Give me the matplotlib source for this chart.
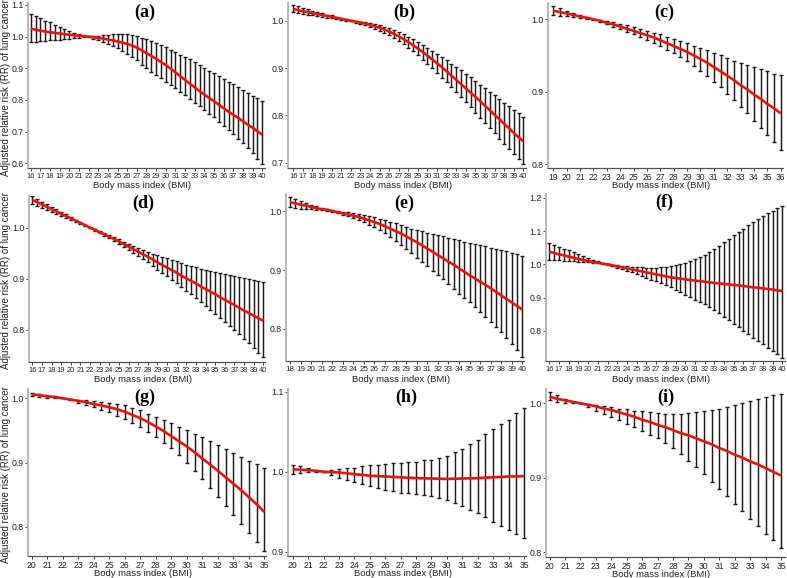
import numpy as np
import matplotlib
matplotlib.use("Agg")
import matplotlib.pyplot as plt

# ------------------------------------------------------------------ data
panel_labels = ["(a)", "(b)", "(c)", "(d)", "(e)", "(f)", "(g)", "(h)", "(i)"]
x_label = "Body mass index (BMI)"
y_label = "Adjusted relative risk (RR) of lung cancer"
bmi_step = 0.5

# (a) BMI 16-40
bmi_range_a = (16, 40)
rr_a = [1.025, 1.022, 1.019, 1.016, 1.014, 1.012, 1.010, 1.008, 1.006, 1.004, 1.003, 1.001, 1.000, 0.998, 0.996, 0.994,
        0.991, 0.988, 0.985, 0.981, 0.977, 0.972, 0.965, 0.957, 0.948, 0.939, 0.930, 0.920, 0.910, 0.899, 0.887, 0.875,
        0.863, 0.851, 0.840, 0.828, 0.817, 0.806, 0.796, 0.785, 0.774, 0.763, 0.753, 0.743, 0.733, 0.722, 0.712, 0.701, 0.690]
lo_a = [0.982, 0.983, 0.985, 0.986, 0.988, 0.989, 0.991, 0.992, 0.994, 0.995, 0.997, 0.998, 0.999, 0.994, 0.989, 0.984,
        0.978, 0.971, 0.964, 0.955, 0.946, 0.936, 0.925, 0.912, 0.900, 0.889, 0.878, 0.868, 0.858, 0.847, 0.837, 0.826,
        0.816, 0.804, 0.792, 0.780, 0.768, 0.757, 0.745, 0.732, 0.719, 0.706, 0.692, 0.678, 0.664, 0.648, 0.632, 0.615, 0.598]
hi_a = [1.070, 1.064, 1.058, 1.051, 1.045, 1.038, 1.032, 1.025, 1.019, 1.013, 1.008, 1.004, 1.001, 1.002, 1.003, 1.005,
        1.006, 1.007, 1.008, 1.008, 1.007, 1.005, 1.002, 0.997, 0.992, 0.986, 0.980, 0.973, 0.966, 0.958, 0.951, 0.943,
        0.936, 0.928, 0.920, 0.911, 0.902, 0.893, 0.884, 0.875, 0.867, 0.858, 0.849, 0.840, 0.831, 0.822, 0.814, 0.805, 0.797]
yticks_a = [0.6, 0.7, 0.8, 0.9, 1.0, 1.1]

# (b) BMI 16-40
bmi_range_b = (16, 40)
rr_b = [1.025, 1.022, 1.020, 1.018, 1.016, 1.014, 1.012, 1.010, 1.008, 1.006, 1.004, 1.002, 1.000, 0.998, 0.996, 0.994,
        0.991, 0.988, 0.985, 0.981, 0.977, 0.972, 0.967, 0.961, 0.955, 0.948, 0.941, 0.934, 0.926, 0.918, 0.910, 0.902,
        0.893, 0.884, 0.875, 0.866, 0.857, 0.848, 0.839, 0.830, 0.820, 0.811, 0.801, 0.792, 0.782, 0.773, 0.763, 0.754, 0.745]
lo_b = [1.018, 1.016, 1.014, 1.012, 1.011, 1.009, 1.008, 1.006, 1.005, 1.003, 1.002, 1.000, 0.999, 0.996, 0.993, 0.990,
        0.987, 0.983, 0.979, 0.974, 0.969, 0.963, 0.957, 0.950, 0.943, 0.935, 0.927, 0.918, 0.909, 0.900, 0.890, 0.880,
        0.870, 0.860, 0.849, 0.839, 0.828, 0.817, 0.806, 0.795, 0.784, 0.773, 0.762, 0.751, 0.740, 0.729, 0.718, 0.707, 0.697]
hi_b = [1.033, 1.030, 1.027, 1.024, 1.021, 1.018, 1.016, 1.013, 1.011, 1.008, 1.006, 1.003, 1.001, 1.000, 0.998, 0.997,
        0.995, 0.993, 0.990, 0.987, 0.984, 0.980, 0.976, 0.971, 0.966, 0.961, 0.955, 0.949, 0.943, 0.937, 0.930, 0.923,
        0.916, 0.909, 0.902, 0.895, 0.887, 0.880, 0.872, 0.865, 0.857, 0.850, 0.842, 0.835, 0.827, 0.819, 0.811, 0.804, 0.796]
yticks_b = [0.7, 0.8, 0.9, 1.0]

# (c) BMI 19-36
bmi_range_c = (19, 36)
rr_c = [1.012, 1.010, 1.008, 1.006, 1.004, 1.002, 1.000, 0.998, 0.995, 0.993, 0.990, 0.987, 0.984, 0.981, 0.978, 0.975,
        0.971, 0.967, 0.963, 0.959, 0.955, 0.950, 0.945, 0.940, 0.934, 0.928, 0.922, 0.916, 0.909, 0.903, 0.896, 0.890,
        0.883, 0.877, 0.870]
lo_c = [1.006, 1.005, 1.004, 1.003, 1.002, 1.000, 0.999, 0.996, 0.993, 0.990, 0.986, 0.983, 0.979, 0.975, 0.971, 0.967,
        0.963, 0.958, 0.953, 0.948, 0.942, 0.936, 0.929, 0.922, 0.914, 0.906, 0.897, 0.888, 0.879, 0.870, 0.860, 0.850,
        0.840, 0.830, 0.820]
hi_c = [1.018, 1.015, 1.012, 1.009, 1.006, 1.003, 1.001, 0.999, 0.998, 0.996, 0.994, 0.992, 0.989, 0.987, 0.984, 0.981,
        0.979, 0.976, 0.973, 0.970, 0.967, 0.963, 0.960, 0.957, 0.953, 0.950, 0.946, 0.943, 0.940, 0.937, 0.934, 0.931,
        0.928, 0.925, 0.923]
yticks_c = [0.8, 0.9, 1.0]

# (d) BMI 16-40
bmi_range_d = (16, 40)
rr_d = [1.054, 1.050, 1.045, 1.041, 1.036, 1.032, 1.027, 1.023, 1.018, 1.014, 1.009, 1.005, 1.000, 0.996, 0.991, 0.987,
        0.982, 0.978, 0.973, 0.968, 0.963, 0.958, 0.953, 0.948, 0.943, 0.938, 0.932, 0.927, 0.922, 0.917, 0.912, 0.906,
        0.901, 0.896, 0.891, 0.885, 0.880, 0.875, 0.870, 0.864, 0.859, 0.854, 0.849, 0.843, 0.838, 0.833, 0.828, 0.823, 0.818]
lo_d = [1.047, 1.043, 1.039, 1.035, 1.031, 1.027, 1.023, 1.019, 1.015, 1.011, 1.007, 1.003, 0.999, 0.994, 0.989, 0.984,
        0.979, 0.974, 0.968, 0.963, 0.957, 0.951, 0.945, 0.939, 0.932, 0.925, 0.918, 0.912, 0.905, 0.898, 0.891, 0.884,
        0.877, 0.870, 0.862, 0.855, 0.847, 0.840, 0.832, 0.824, 0.816, 0.808, 0.800, 0.792, 0.783, 0.774, 0.765, 0.756, 0.747]
hi_d = [1.061, 1.056, 1.051, 1.046, 1.041, 1.036, 1.031, 1.026, 1.021, 1.016, 1.011, 1.006, 1.001, 0.997, 0.993, 0.989,
        0.985, 0.981, 0.977, 0.973, 0.969, 0.965, 0.961, 0.957, 0.953, 0.949, 0.946, 0.943, 0.940, 0.937, 0.934, 0.931,
        0.928, 0.925, 0.923, 0.920, 0.918, 0.915, 0.913, 0.911, 0.909, 0.907, 0.905, 0.903, 0.901, 0.899, 0.897, 0.895, 0.894]
yticks_d = [0.8, 0.9, 1.0]

# (e) BMI 18-40
bmi_range_e = (18, 40)
rr_e = [1.015, 1.013, 1.011, 1.009, 1.007, 1.005, 1.003, 1.002, 1.000, 0.998, 0.996, 0.994, 0.992, 0.990, 0.987, 0.984,
        0.981, 0.978, 0.974, 0.970, 0.966, 0.962, 0.957, 0.952, 0.947, 0.942, 0.936, 0.931, 0.925, 0.920, 0.914, 0.909,
        0.903, 0.897, 0.891, 0.886, 0.880, 0.875, 0.869, 0.863, 0.857, 0.851, 0.845, 0.839, 0.833]
lo_e = [1.007, 1.005, 1.004, 1.003, 1.003, 1.002, 1.001, 1.000, 0.999, 0.996, 0.993, 0.991, 0.988, 0.985, 0.981, 0.977,
        0.973, 0.968, 0.962, 0.956, 0.950, 0.943, 0.936, 0.929, 0.921, 0.914, 0.906, 0.899, 0.891, 0.884, 0.876, 0.868,
        0.860, 0.853, 0.845, 0.837, 0.829, 0.821, 0.812, 0.804, 0.795, 0.785, 0.775, 0.764, 0.753]
hi_e = [1.023, 1.020, 1.017, 1.014, 1.011, 1.008, 1.005, 1.003, 1.001, 1.000, 0.999, 0.998, 0.996, 0.995, 0.993, 0.991,
        0.989, 0.987, 0.985, 0.982, 0.979, 0.976, 0.973, 0.970, 0.968, 0.966, 0.963, 0.961, 0.959, 0.957, 0.955, 0.953,
        0.951, 0.948, 0.946, 0.944, 0.942, 0.940, 0.938, 0.936, 0.934, 0.932, 0.929, 0.927, 0.924]
yticks_e = [0.8, 0.9, 1.0]

# (f) BMI 16-40
bmi_range_f = (16, 40)
rr_f = [1.038, 1.034, 1.030, 1.027, 1.023, 1.020, 1.016, 1.013, 1.010, 1.007, 1.005, 1.002, 1.000, 0.997, 0.994, 0.991,
        0.988, 0.985, 0.982, 0.979, 0.976, 0.973, 0.970, 0.967, 0.964, 0.961, 0.959, 0.957, 0.955, 0.953, 0.951, 0.950,
        0.948, 0.946, 0.944, 0.943, 0.941, 0.940, 0.938, 0.937, 0.935, 0.933, 0.931, 0.930, 0.928, 0.926, 0.924, 0.922, 0.920]
lo_f = [1.013, 1.013, 1.012, 1.011, 1.010, 1.009, 1.008, 1.007, 1.006, 1.005, 1.003, 1.001, 0.999, 0.995, 0.990, 0.986,
        0.981, 0.976, 0.970, 0.965, 0.959, 0.954, 0.949, 0.944, 0.938, 0.931, 0.924, 0.916, 0.908, 0.901, 0.894, 0.888,
        0.881, 0.872, 0.862, 0.853, 0.843, 0.833, 0.822, 0.811, 0.800, 0.790, 0.780, 0.770, 0.760, 0.750, 0.740, 0.730, 0.720]
hi_f = [1.063, 1.058, 1.052, 1.047, 1.042, 1.036, 1.030, 1.025, 1.020, 1.014, 1.009, 1.004, 1.001, 0.999, 0.998, 0.996,
        0.995, 0.993, 0.992, 0.991, 0.990, 0.990, 0.990, 0.991, 0.992, 0.994, 0.997, 1.000, 1.004, 1.010, 1.016, 1.022,
        1.028, 1.037, 1.046, 1.056, 1.066, 1.076, 1.087, 1.097, 1.107, 1.117, 1.127, 1.136, 1.145, 1.153, 1.160, 1.168, 1.176]
yticks_f = [0.8, 0.9, 1.0, 1.1, 1.2]

# (g) BMI 20-35
bmi_range_g = (20, 35)
rr_g = [1.006, 1.005, 1.003, 1.002, 1.000, 0.998, 0.996, 0.994, 0.991, 0.989, 0.986, 0.983, 0.979, 0.974, 0.969, 0.963,
        0.956, 0.949, 0.941, 0.933, 0.925, 0.916, 0.906, 0.897, 0.887, 0.877, 0.867, 0.857, 0.846, 0.835, 0.823]
lo_g = [1.003, 1.002, 1.001, 1.000, 1.000, 0.997, 0.993, 0.990, 0.986, 0.982, 0.978, 0.973, 0.968, 0.962, 0.956, 0.948,
        0.940, 0.931, 0.922, 0.911, 0.899, 0.887, 0.874, 0.861, 0.847, 0.833, 0.818, 0.804, 0.790, 0.776, 0.762]
hi_g = [1.009, 1.007, 1.005, 1.003, 1.000, 0.999, 0.998, 0.997, 0.996, 0.995, 0.993, 0.991, 0.989, 0.985, 0.981, 0.976,
        0.971, 0.966, 0.961, 0.956, 0.950, 0.945, 0.939, 0.933, 0.927, 0.921, 0.915, 0.909, 0.903, 0.897, 0.891]
yticks_g = [0.8, 0.9, 1.0]

# (h) BMI 20-35
bmi_range_h = (20, 35)
rr_h = [1.003, 1.0025, 1.002, 1.001, 1.000, 0.9995, 0.999, 0.998, 0.997, 0.996, 0.995, 0.9945, 0.994, 0.9935, 0.993,
        0.9925, 0.992, 0.9918, 0.9915, 0.9912, 0.991, 0.9912, 0.9915, 0.9918, 0.992, 0.9925, 0.993, 0.9935, 0.994,
        0.9942, 0.9945]
lo_h = [0.997, 0.998, 0.999, 0.9995, 1.000, 0.996, 0.9925, 0.990, 0.9875, 0.985, 0.982, 0.9795, 0.977, 0.9755, 0.974,
        0.973, 0.972, 0.9705, 0.969, 0.967, 0.965, 0.961, 0.957, 0.9525, 0.948, 0.943, 0.937, 0.932, 0.927, 0.922, 0.917]
hi_h = [1.009, 1.007, 1.004, 1.002, 1.000, 1.002, 1.003, 1.004, 1.005, 1.007, 1.008, 1.009, 1.010, 1.011, 1.011, 1.012,
        1.0125, 1.014, 1.015, 1.017, 1.020, 1.024, 1.029, 1.035, 1.040, 1.047, 1.053, 1.060, 1.065, 1.073, 1.079]
yticks_h = [0.9, 1.0, 1.1]

# (i) BMI 20-35
bmi_range_i = (20, 35)
rr_i = [1.009, 1.006, 1.004, 1.002, 1.000, 0.998, 0.996, 0.993, 0.991, 0.988, 0.985, 0.982, 0.978, 0.975, 0.971, 0.968,
        0.964, 0.960, 0.957, 0.953, 0.949, 0.945, 0.940, 0.936, 0.931, 0.927, 0.922, 0.918, 0.913, 0.908, 0.903]
lo_i = [1.004, 1.002, 1.001, 1.000, 1.000, 0.995, 0.990, 0.986, 0.981, 0.977, 0.972, 0.968, 0.963, 0.958, 0.953, 0.947,
        0.940, 0.932, 0.923, 0.914, 0.905, 0.895, 0.885, 0.875, 0.865, 0.855, 0.845, 0.835, 0.825, 0.816, 0.806]
hi_i = [1.015, 1.011, 1.006, 1.002, 1.000, 0.999, 0.998, 0.996, 0.995, 0.993, 0.992, 0.990, 0.989, 0.988, 0.987, 0.986,
        0.985, 0.986, 0.987, 0.988, 0.989, 0.991, 0.993, 0.995, 0.998, 1.001, 1.003, 1.006, 1.008, 1.011, 1.013]
yticks_i = [0.8, 0.9, 1.0]

# ------------------------------------------------------------------ layout (pixels)
W, H = 787, 578
layout = {
    "a": dict(frame=(28, 265, 3, 168), xcal=(16, 30.7, 40, 262.3), ycal=(1.1, 5.0, 0.6, 163.3), title=(145, 12)),
    "b": dict(frame=(288, 526, 3, 168), xcal=(16, 293.3, 40, 523.3), ycal=(1.0, 20.7, 0.7, 162.7), title=(404, 12)),
    "c": dict(frame=(548, 783, 3, 168), xcal=(19, 553.3, 36, 780.7), ycal=(1.0, 19.3, 0.8, 164.0), title=(664, 12)),
    "d": dict(frame=(29, 265, 196, 361.7), xcal=(16, 32.3, 40, 263.3), ycal=(1.0, 227.7, 0.8, 330.0), title=(143, 203)),
    "e": dict(frame=(286, 524, 194, 361), xcal=(18, 290, 40, 522.3), ycal=(1.0, 211.0, 0.8, 329.0), title=(404, 203)),
    "f": dict(frame=(546, 785, 194, 361), xcal=(16, 549.3, 40, 782.3), ycal=(1.2, 197.7, 0.8, 331.0), title=(664, 202)),
    "g": dict(frame=(27.7, 266, 389, 555.7), xcal=(20, 31.7, 35, 264.3), ycal=(1.0, 398.3, 0.8, 526.7), title=(145, 397)),
    "h": dict(frame=(288.3, 526, 389, 555.7), xcal=(20, 292.7, 35, 524.0), ycal=(1.1, 391.7, 0.9, 551.7), title=(406, 397)),
    "i": dict(frame=(546, 785, 389, 556.7), xcal=(20, 549.5, 35, 781.0), ycal=(1.0, 403.3, 0.8, 552.3), title=(666, 397)),
}

panels = [
    ("a", bmi_range_a, rr_a, lo_a, hi_a, yticks_a),
    ("b", bmi_range_b, rr_b, lo_b, hi_b, yticks_b),
    ("c", bmi_range_c, rr_c, lo_c, hi_c, yticks_c),
    ("d", bmi_range_d, rr_d, lo_d, hi_d, yticks_d),
    ("e", bmi_range_e, rr_e, lo_e, hi_e, yticks_e),
    ("f", bmi_range_f, rr_f, lo_f, hi_f, yticks_f),
    ("g", bmi_range_g, rr_g, lo_g, hi_g, yticks_g),
    ("h", bmi_range_h, rr_h, lo_h, hi_h, yticks_h),
    ("i", bmi_range_i, rr_i, lo_i, hi_i, yticks_i),
]

sans = ["Liberation Sans Narrow", "Liberation Sans", "DejaVu Sans"]
serif = ["Liberation Serif", "DejaVu Serif"]
plt.rcParams["font.family"] = sans

fig = plt.figure(figsize=(W / 100, H / 100), dpi=100)
fig.patch.set_facecolor("white")


def fx(px):
    return px / W


def fy(py):
    return 1 - py / H


for idx, (key, (b0, b1), rr, lo, hi, yt) in enumerate(panels):
    lay = layout[key]
    L, R, T, B = lay["frame"]
    ax = fig.add_axes([fx(L), fy(B), (R - L) / W, (B - T) / H])

    xv0, xp0, xv1, xp1 = lay["xcal"]
    sx = (xv1 - xv0) / (xp1 - xp0)
    ax.set_xlim(xv0 + (L - xp0) * sx, xv0 + (R - xp0) * sx)
    yv0, yp0, yv1, yp1 = lay["ycal"]
    sy = (yv1 - yv0) / (yp1 - yp0)
    ax.set_ylim(yv0 + (B - yp0) * sy, yv0 + (T - yp0) * sy)

    bmi = np.arange(b0, b1 + bmi_step / 2, bmi_step)
    rr = np.asarray(rr)
    lo = np.asarray(lo)
    hi = np.asarray(hi)
    mid = (lo + hi) / 2
    half = (hi - lo) / 2
    ax.errorbar(bmi, mid, yerr=half, fmt="none", ecolor="#1a1a1a", elinewidth=1.05,
                capsize=1.5, capthick=1.0, zorder=2)
    ax.plot(bmi, rr, color="#f01010", lw=1.9, zorder=3, solid_capstyle="butt")

    ax.set_xticks(np.arange(b0, b1 + 1))
    ax.set_yticks(yt)
    ax.set_yticklabels([f"{v:.1f}" for v in yt])

    px_per_unit = (xp1 - xp0) / (xv1 - xv0)
    xt_size = 5.4 if px_per_unit < 10 else (5.8 if px_per_unit < 12 else 6.2)

    for s in ("top", "right"):
        ax.spines[s].set_visible(False)
    ax.spines["left"].set_color("#b8b8b8")
    ax.spines["left"].set_linewidth(1.4)
    ax.spines["bottom"].set_color("#505050")
    ax.spines["bottom"].set_linewidth(0.9)
    ax.tick_params(axis="x", length=2.2, width=0.7, color="#404040", pad=1.5,
                   labelsize=xt_size, labelcolor="#222222")
    ax.tick_params(axis="y", length=2.0, width=0.7, color="#404040", pad=1.2,
                   labelsize=6.3, labelcolor="#222222")

    cx = (L + R) / 2 - 4
    fig.text(fx(cx), fy(B + 18), x_label, ha="center", va="center", fontsize=6.8, color="#222222")
    tx, ty = lay["title"]
    fig.text(fx(tx), fy(ty), panel_labels[idx], ha="center", va="center", fontsize=13,
             fontweight="bold", family=serif, color="black")
    if key in ("a", "d", "g"):
        fig.text(fx(6.5), fy((T + B) / 2 + 2), y_label, rotation=90, ha="center", va="center",
                 fontsize=7.0, color="#222222")

fig.savefig("out.png", dpi=100, facecolor="white")
